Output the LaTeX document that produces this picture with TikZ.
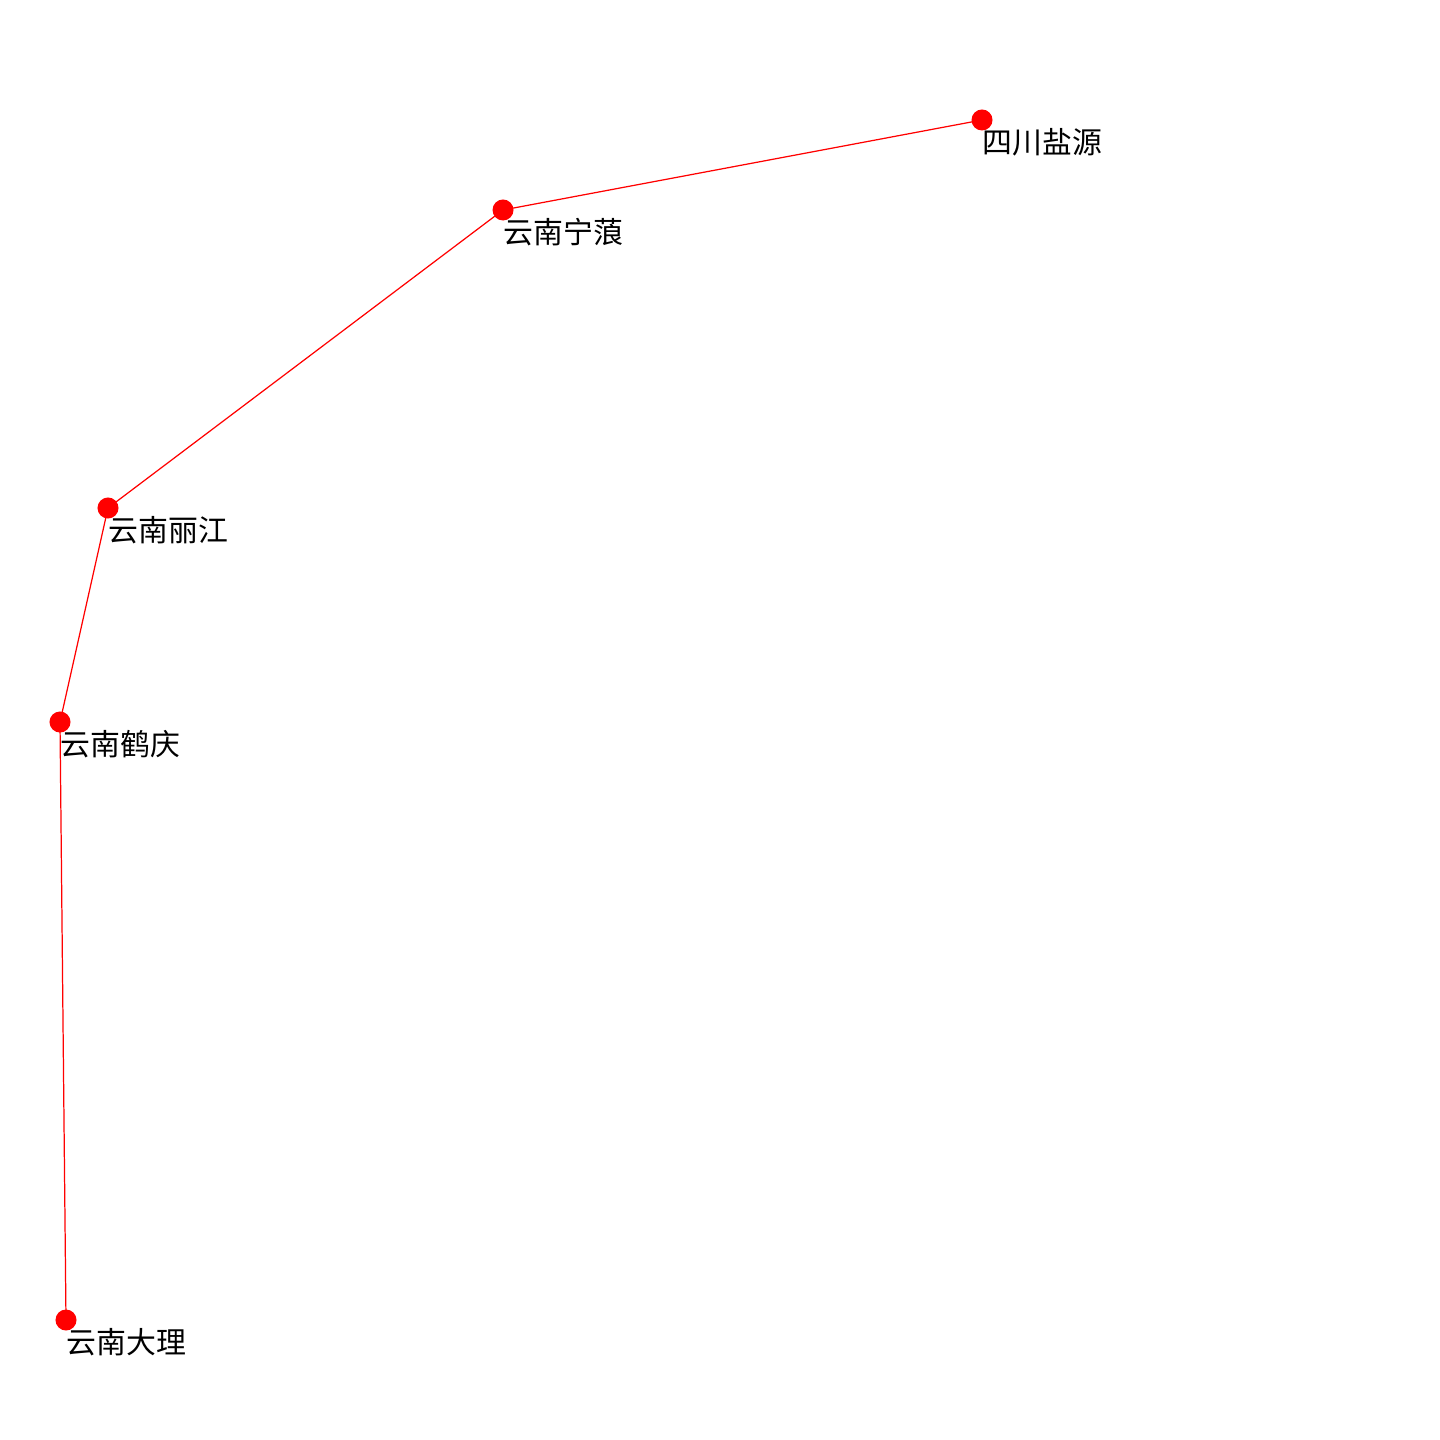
\documentclass[tikz,border=0pt]{standalone}
\usepackage{fontspec}
\newfontfamily\cjk{Noto Sans CJK SC}
\begin{document}
\begin{tikzpicture}[x=0.01cm,y=-0.01cm,
  dot/.style={circle,fill=red,draw=none,minimum size=0.21cm,inner sep=0pt},
  lbl/.style={anchor=west,inner sep=0pt,font=\cjk\fontsize{8.5pt}{10pt}\selectfont},
  edge/.style={draw=red,line width=0.35pt}]
\useasboundingbox[fill=white] (0,0) rectangle (1440,1440);
\coordinate (pa) at (982,120);
\coordinate (pb) at (503,210);
\coordinate (pc) at (108,508);
\coordinate (pd) at (60,722);
\coordinate (pe) at (66,1320);
\draw[edge] (pa) -- (pb) -- (pc) -- (pd) -- (pe);
\node[dot] (a) at (pa) {};
\node[dot] (b) at (pb) {};
\node[dot] (c) at (pc) {};
\node[dot] (d) at (pd) {};
\node[dot] (e) at (pe) {};
\node[lbl] (la) at (982,142) {四川盐源};
\node[lbl] (lb) at (503,232) {云南宁蒗};
\node[lbl] (lc) at (108,530) {云南丽江};
\node[lbl] (ld) at (60,744) {云南鹤庆};
\node[lbl] (le) at (66,1342) {云南大理};
\end{tikzpicture}
\end{document}
